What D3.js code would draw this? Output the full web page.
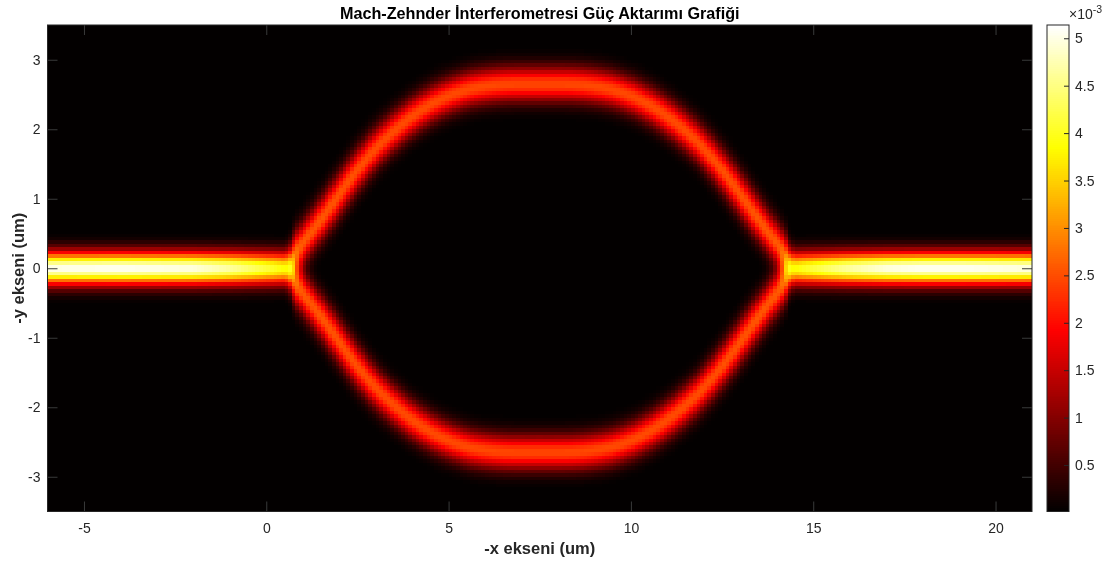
<!DOCTYPE html>
<html>
<head>
<meta charset="utf-8">
<script src="https://cdn.jsdelivr.net/npm/d3@7"></script>
<style>
  body { margin: 0; background: #fff; }
  #wrap { position: relative; width: 1109px; height: 563px; }
  #wrap canvas, #wrap svg { position: absolute; left: 0; top: 0; }
  text { font-family: "Liberation Sans", Arial, Helvetica, sans-serif; }
</style>
</head>
<body>
<div id="wrap">
  <canvas id="field" width="1109" height="563"></canvas>
  <svg id="chart" width="1109" height="563"></svg>
</div>
<script>
// ---- axis ranges and tick labels (um) ----
const xDomain = [-6, 21];
const yDomain = [-3.5, 3.5];
const xTicks = [-5, 0, 5, 10, 15, 20];
const yTicks = [-3, -2, -1, 0, 1, 2, 3];

// ---- colour axis (×10^-3) ----
const cDomain = [0.01, 5.14];
const cTicks = [0.5, 1, 1.5, 2, 2.5, 3, 3.5, 4, 4.5, 5];

// ---- simulation grid spacing (um) ----
const gridDx = 0.1;
const gridDy = 0.05;

// ---- input waveguide: peak power along x (×10^-3) ----
const inputX    = [-6,   -4,   -2,   -1,   0,    0.65];
const inputPeak = [5.05, 5.10, 5.00, 4.70, 4.20, 3.80];

// ---- interferometer arms: upper arm centre line (lower arm is its mirror) ----
const armX = [0.65, 1, 1.5, 2, 2.5, 3, 3.5, 4, 4.5, 5, 5.5, 6, 6.5, 7, 7.5,
              8, 8.5, 9, 9.5, 10, 10.5, 11, 11.5, 12, 12.5, 13, 13.5, 14, 14.35];
const armY = [0.12, 0.36, 0.70, 1.06, 1.41, 1.72, 1.97, 2.18, 2.35, 2.48, 2.57, 2.62, 2.645, 2.65, 2.65,
              2.65, 2.645, 2.62, 2.57, 2.48, 2.35, 2.18, 1.97, 1.72, 1.41, 1.06, 0.70, 0.36, 0.12];
const armPeakX = [0.65, 3,    7.5,  12,   14.35];
const armPeak  = [2.60, 2.50, 2.45, 2.50, 2.60];

// ---- output waveguide: peak power along x (×10^-3) ----
const outputX    = [14.35, 15,   16,   17,   18,   19,   20,   21];
const outputPeak = [3.80,  4.20, 4.70, 5.00, 5.10, 5.10, 5.05, 5.00];

// ---- mode widths (Gaussian sigma, um) ----
const guideSigma = 0.16;
const armSigma = 0.175;

// ---- layout ----
const plot = { left: 47.5, right: 1032, top: 25, bottom: 511.5 };
const cbar = { left: 1047, right: 1069, top: 25, bottom: 511.5 };
const axisColor = "#262626";

const x = d3.scaleLinear().domain(xDomain).range([plot.left, plot.right]);
const y = d3.scaleLinear().domain(yDomain).range([plot.bottom, plot.top]);

// piecewise profiles
const inPeakAt  = d3.scaleLinear().domain(inputX).range(inputPeak).clamp(true);
const outPeakAt = d3.scaleLinear().domain(outputX).range(outputPeak).clamp(true);
const armPeakAt = d3.scaleLinear().domain(armPeakX).range(armPeak).clamp(true);
const splitX = armX[0], mergeX = armX[armX.length - 1];
const blend = 0.2; // half-length of the Y-junction transition (um)

// smooth (Catmull-Rom) centre line through the arm points
const segOf = d3.bisector(d => d).right;
function armCentre(px) {
  const n = armX.length;
  if (px <= armX[0]) return armY[0];
  if (px >= armX[n - 1]) return armY[n - 1];
  const i = Math.min(n - 2, segOf(armX, px) - 1);
  const x0 = armX[i], x1 = armX[i + 1], h = x1 - x0;
  const y0 = armY[i], y1 = armY[i + 1];
  const m = k => {
    const a = Math.max(0, k - 1), b = Math.min(n - 1, k + 1);
    return (armY[b] - armY[a]) / (armX[b] - armX[a]);
  };
  const m0 = m(i) * h, m1 = m(i + 1) * h;
  const t = (px - x0) / h, t2 = t * t, t3 = t2 * t;
  return (2 * t3 - 3 * t2 + 1) * y0 + (t3 - 2 * t2 + t) * m0 +
         (-2 * t3 + 3 * t2) * y1 + (t3 - t2) * m1;
}

// MATLAB-style "hot" colormap, 256 levels
function hot(k) {
  const n1 = 96, n2 = 96, n3 = 64;
  const r = k < n1 ? (k + 1) / n1 : 1;
  const g = k < n1 ? 0 : (k < n1 + n2 ? (k - n1 + 1) / n2 : 1);
  const b = k < n1 + n2 ? 0 : (k - n1 - n2 + 1) / n3;
  return d3.rgb(r * 255, g * 255, b * 255).toString();
}
const cIndex = d3.scaleQuantize().domain(cDomain).range(d3.range(256));
const colour = v => hot(cIndex(Math.max(cDomain[0], Math.min(cDomain[1], v))));

function straight(peak, py) {
  return peak * Math.exp(-py * py / (2 * guideSigma * guideSigma));
}
function arms(px, py) {
  const c = armCentre(px);
  const h = 0.05;
  const slope = (armCentre(px + h) - armCentre(px - h)) / (2 * h);
  const cosT = 1 / Math.sqrt(1 + slope * slope);
  const p = armPeakAt(px);
  const d1 = (py - c) * cosT, d2 = (py + c) * cosT;
  return p * (Math.exp(-d1 * d1 / (2 * armSigma * armSigma)) +
              Math.exp(-d2 * d2 / (2 * armSigma * armSigma)));
}
const smooth = t => { t = Math.max(0, Math.min(1, t)); return t * t * (3 - 2 * t); };

// power density at a point (×10^-3)
function power(px, py) {
  const wIn = 1 - smooth((px - (splitX - blend)) / (2 * blend));
  const wOut = smooth((px - (mergeX - blend)) / (2 * blend));
  const wArm = 1 - wIn - wOut;
  let v = 0;
  if (wIn > 0) v += wIn * straight(inPeakAt(px), py);
  if (wOut > 0) v += wOut * straight(outPeakAt(px), py);
  if (wArm > 0) v += wArm * arms(px, py);
  return v;
}

// ---- field image ----
const ctx = document.getElementById("field").getContext("2d");
const nx = Math.round((xDomain[1] - xDomain[0]) / gridDx);
const ny = Math.round((yDomain[1] - yDomain[0]) / gridDy);
for (let i = 0; i < nx; i++) {
  const x0 = xDomain[0] + i * gridDx, x1 = x0 + gridDx;
  const xc = x0 + gridDx / 2;
  const px0 = Math.round(x(x0)), px1 = Math.round(x(x1));
  for (let j = 0; j < ny; j++) {
    const y0 = yDomain[0] + j * gridDy, y1 = y0 + gridDy;
    const yc = y0 + gridDy / 2;
    const py0 = Math.round(y(y1)), py1 = Math.round(y(y0));
    ctx.fillStyle = colour(power(xc, yc));
    ctx.fillRect(px0, py0, px1 - px0, py1 - py0);
  }
}

// ---- colorbar strip ----
const cy = d3.scaleLinear().domain(cDomain).range([cbar.bottom, cbar.top]);
for (let row = Math.round(cbar.top); row < Math.round(cbar.bottom); row++) {
  ctx.fillStyle = colour(cy.invert(row + 0.5));
  ctx.fillRect(cbar.left, row, cbar.right - cbar.left, 1);
}

// ---- axes ----
const svg = d3.select("#chart");
const fmt = d => String(d);

function styleAxis(g, labels) {
  g.select(".domain").remove();
  g.selectAll(".tick line").attr("stroke", "#3a3a3a").attr("stroke-width", 1);
  g.selectAll(".tick text")
    .attr("fill", axisColor)
    .style("font-size", "14px")
    .style("font-family", '"Liberation Sans", Arial, Helvetica, sans-serif');
  if (!labels) g.selectAll(".tick text").remove();
}

svg.append("g").attr("transform", `translate(0,${plot.bottom})`)
  .call(d3.axisBottom(x).tickValues(xTicks).tickFormat(fmt).tickSize(-10).tickPadding(11.5))
  .call(g => styleAxis(g, true));
svg.append("g").attr("transform", `translate(0,${plot.top})`)
  .call(d3.axisTop(x).tickValues(xTicks).tickSize(-10))
  .call(g => styleAxis(g, false));
svg.append("g").attr("transform", `translate(${plot.left},0)`)
  .call(d3.axisLeft(y).tickValues(yTicks).tickFormat(fmt).tickSize(-10).tickPadding(7))
  .call(g => styleAxis(g, true));
svg.append("g").attr("transform", `translate(${plot.right},0)`)
  .call(d3.axisRight(y).tickValues(yTicks).tickSize(-10))
  .call(g => styleAxis(g, false));

svg.append("rect")
  .attr("x", plot.left).attr("y", plot.top)
  .attr("width", plot.right - plot.left).attr("height", plot.bottom - plot.top)
  .attr("fill", "none").attr("stroke", axisColor).attr("stroke-width", 1);

// ---- titles ----
svg.append("text")
  .attr("x", (plot.left + plot.right) / 2).attr("y", 18.5)
  .attr("text-anchor", "middle")
  .style("font-size", "16.2px").style("font-weight", "bold").attr("fill", "#000")
  .text("Mach-Zehnder İnterferometresi Güç Aktarımı Grafiği");

svg.append("text")
  .attr("x", (plot.left + plot.right) / 2).attr("y", 554)
  .attr("text-anchor", "middle")
  .style("font-size", "16.5px").style("font-weight", "bold").attr("fill", axisColor)
  .text("-x ekseni (um)");

svg.append("text")
  .attr("transform", `translate(24,${(plot.top + plot.bottom) / 2}) rotate(-90)`)
  .attr("text-anchor", "middle")
  .style("font-size", "16.5px").style("font-weight", "bold").attr("fill", axisColor)
  .text("-y ekseni (um)");

// ---- colorbar axis ----
svg.append("g").attr("transform", `translate(${cbar.right},0)`)
  .call(d3.axisRight(cy).tickValues(cTicks).tickFormat(fmt).tickSize(-5).tickPadding(6))
  .call(g => styleAxis(g, true))
  .call(g => g.selectAll(".tick line").attr("stroke", axisColor));

svg.append("rect")
  .attr("x", cbar.left).attr("y", cbar.top)
  .attr("width", cbar.right - cbar.left).attr("height", cbar.bottom - cbar.top)
  .attr("fill", "none").attr("stroke", axisColor).attr("stroke-width", 1);

const expo = svg.append("text").attr("x", 1069).attr("y", 19)
  .attr("fill", axisColor).style("font-size", "14px");
expo.append("tspan").text("×10");
expo.append("tspan").attr("dy", -6).style("font-size", "10.5px").text("-3");
</script>
</body>
</html>
